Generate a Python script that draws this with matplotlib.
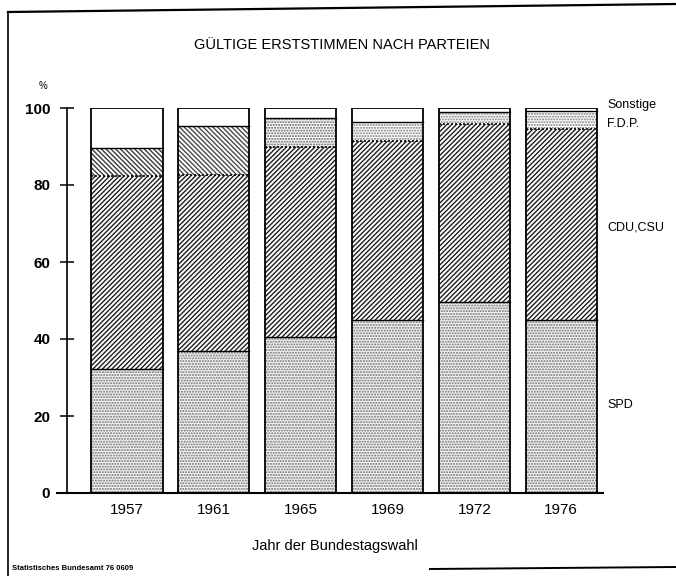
import matplotlib
matplotlib.use("Agg")
import matplotlib.pyplot as plt
import numpy as np
from matplotlib.lines import Line2D

plt.rcParams["font.family"] = ["Liberation Sans", "DejaVu Sans"]
plt.rcParams["hatch.linewidth"] = 1.0

# Gültige Erststimmen nach Parteien, in %
years = ["1957", "1961", "1965", "1969", "1972", "1976"]
spd = [32.2, 37.0, 40.5, 44.9, 49.6, 44.9]
cdu_csu = [50.1, 45.6, 49.4, 46.5, 46.2, 49.6]
fdp = [7.3, 12.7, 7.5, 5.0, 3.2, 4.6]
sonstige = [10.4, 4.7, 2.6, 3.6, 1.0, 0.9]

party_labels = ["SPD", "CDU,CSU", "F.D.P.", "Sonstige"]

W, H = 676, 576
fig = plt.figure(figsize=(W / 100, H / 100), dpi=100)
ax = fig.add_axes([67 / W, 1 - 493 / H, (603 - 67) / W, (493 - 108) / H])

x = np.arange(len(years))
width = 0.82

spd = np.array(spd)
cdu_csu = np.array(cdu_csu)
fdp = np.array(fdp)
sonstige = np.array(sonstige)
b1 = spd
b2 = b1 + cdu_csu
b3 = b2 + fdp
total = b3 + sonstige

# segments (hatch colour follows edgecolor, outlines drawn separately)
ax.bar(x, spd, width, color="#f4f4f4", edgecolor="#6e6e6e", hatch="......", linewidth=0)
ax.bar(x, cdu_csu, width, bottom=b1, color="white", edgecolor="#1e1e1e",
       hatch="///////", linewidth=0)
fdp_hatch = ["\\\\\\\\\\\\\\", "\\\\\\\\\\\\\\", "......", "......", "......", "......"]
fdp_col = ["#3a3a3a", "#4a4a4a", "#5a5a5a", "#7a7a7a", "#7a7a7a", "#7a7a7a"]
for i in range(len(years)):
    ax.bar(x[i], fdp[i], width, bottom=b2[i], color="white", edgecolor=fdp_col[i],
           hatch=fdp_hatch[i], linewidth=0)
ax.bar(x, sonstige, width, bottom=b3, color="white", edgecolor="white", linewidth=0)

# outlines and boundaries
ax.bar(x, total, width, fill=False, edgecolor="black", linewidth=1.3)
for i in range(len(years)):
    xl, xr = x[i] - width / 2, x[i] + width / 2
    ax.plot([xl, xr], [b1[i], b1[i]], color="black", lw=1.0)
    ax.plot([xl, xr], [b2[i], b2[i]], color="black", lw=1.2, ls=(0, (1.2, 1.2)))
    ax.plot([xl, xr], [b3[i], b3[i]], color="black", lw=1.0)

ax.set_xlim(-0.69, 5.48)
ax.set_ylim(0, 100)
ax.set_yticks([0, 20, 40, 60, 80, 100])
ax.set_xticks(x)
ax.set_xticklabels(years, fontsize=11)
ax.tick_params(axis="x", length=0, pad=7)
ax.tick_params(axis="y", direction="inout", length=10, width=1.1, pad=7, labelsize=11)
for lab in ax.get_yticklabels():
    lab.set_fontweight("bold")

for side in ["top", "right", "bottom"]:
    ax.spines[side].set_visible(False)
ax.spines["left"].set_linewidth(1.2)
ax.add_line(Line2D([-0.018, 1.0], [0, 0], transform=ax.transAxes, color="black",
                   lw=1.5, clip_on=False))

ax.set_xlabel("Jahr der Bundestagswahl", fontsize=10.5, labelpad=16)

# right-hand party labels
label_y = [405, 227, 124, 105]
for text, py in zip(party_labels, label_y):
    fig.text(607 / W, 1 - py / H, text, fontsize=9, va="center", ha="left")

fig.text(342 / W, 1 - 45 / H, "GÜLTIGE ERSTSTIMMEN NACH PARTEIEN", fontsize=10.5,
         ha="center", va="center")
fig.text(43 / W, 1 - 86 / H, "%", fontsize=7, ha="center", va="center")
fig.text(12 / W, 1 - 568 / H, "Statistisches Bundesamt 76 0609", fontsize=5.5,
         ha="left", va="center", fontweight="bold")

# page frame
fig.add_artist(Line2D([8 / W, 8 / W], [0, 1 - 12 / H], transform=fig.transFigure,
                      color="black", lw=1.2))
fig.add_artist(Line2D([8 / W, 1.0], [1 - 12 / H, 1 - 4 / H], transform=fig.transFigure,
                      color="black", lw=1.6))
fig.add_artist(Line2D([430 / W, 1.0], [1 - 569 / H, 1 - 567 / H], transform=fig.transFigure,
                      color="black", lw=1.4))

fig.savefig("out.png", dpi=100)
